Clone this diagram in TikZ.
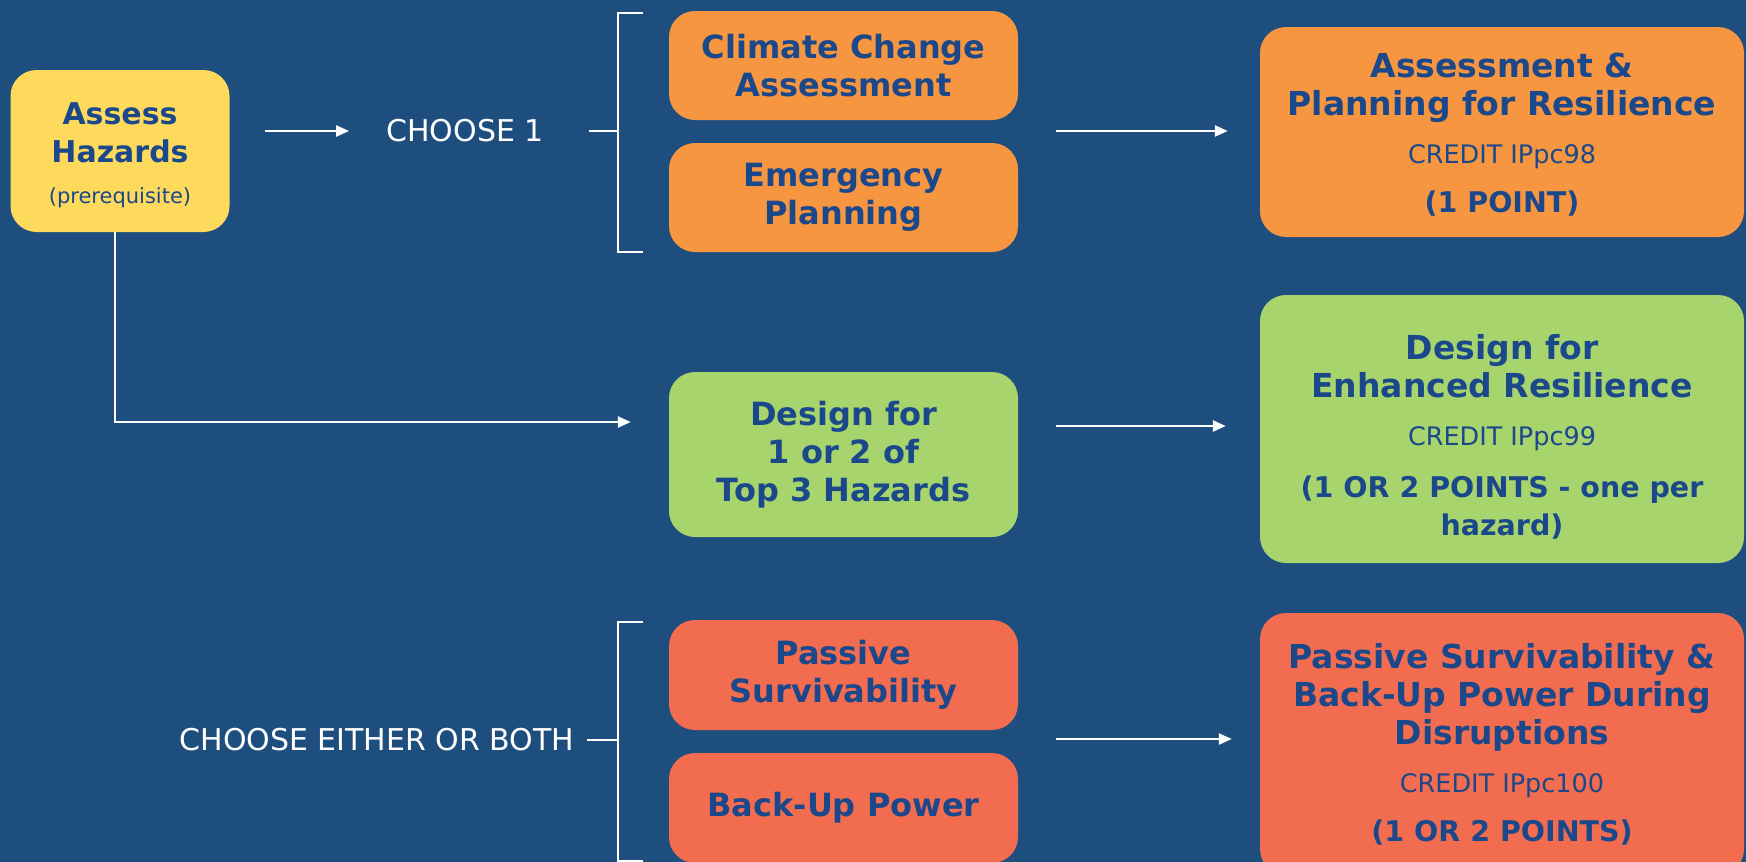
\documentclass[tikz,border=0pt]{standalone}
\usepackage{fontspec}
\setmainfont{DejaVu Sans}
\usetikzlibrary{arrows.meta}
\definecolor{bg}{RGB}{30,78,126}
\definecolor{ink}{RGB}{26,72,138}
\definecolor{hazyellow}{RGB}{253,217,92}
\definecolor{assessorange}{RGB}{247,150,64}
\definecolor{designgreen}{RGB}{168,212,110}
\definecolor{powerred}{RGB}{242,108,80}
\newcommand{\creditline}[1]{{\fontsize{25.5}{30}\selectfont\mdseries #1}}
\newcommand{\pointsfont}{\fontsize{28.5}{36}\selectfont}
\begin{document}
\begin{tikzpicture}[x=1pt,y=1pt,
  box/.style={rectangle, rounded corners=26pt, inner sep=0pt, align=center,
    text=ink, font=\fontsize{32}{38}\selectfont\bfseries,
    minimum width=349pt, minimum height=109pt},
  credit/.style={box, minimum width=484pt, font=\fontsize{33}{38}\selectfont\bfseries},
  choice/.style={text=white, inner sep=0pt, font=\fontsize{30}{36}\selectfont},
  wire/.style={draw=white, line width=2.4pt},
  arrow/.style={wire, -{Triangle[length=13pt,width=11pt]}}
]
\useasboundingbox (0,0) rectangle (1746,-862);
\clip (0,0) rectangle (1746,-862);
\fill[bg] (0,0) rectangle (1746,-862);

% prerequisite
\node[box, fill=hazyellow, minimum width=219pt, minimum height=162pt,
      font=\fontsize{30}{38}\selectfont\bfseries] (assess) at (120,-151)
  {\rule{0pt}{31pt}Assess\\Hazards\\[3pt]{\fontsize{21}{25}\selectfont\mdseries (prerequisite)}};

% option boxes
\node[box, fill=assessorange] (climate) at (843.5,-65.5) {Climate Change\\Assessment};
\node[box, fill=assessorange] (emerg) at (843.5,-197.5) {Emergency\\Planning};
\node[box, fill=designgreen, minimum height=165pt] (design) at (843.5,-454.5)
  {Design for\\1 or 2 of\\Top 3 Hazards};
\node[box, fill=powerred, minimum height=110pt] (passive) at (843.5,-675) {Passive\\Survivability};
\node[box, fill=powerred, minimum height=110pt] (backup) at (843.5,-808) {Back-Up Power};

% credit boxes
\node[credit, fill=assessorange, minimum height=210pt] (plan) at (1502,-132)
  {\rule{0pt}{30pt}Assessment \&\\Planning for Resilience\\[10pt]
   \creditline{CREDIT IPpc98}\\[11pt]\pointsfont (1 POINT)};
\node[credit, fill=designgreen, minimum height=268pt] (enh) at (1502,-429)
  {\rule{0pt}{40pt}Design for\\Enhanced Resilience\\[10pt]
   \creditline{CREDIT IPpc99}\\[14pt]
   \pointsfont (1 OR 2 POINTS - one per\\\pointsfont hazard)};
\node[credit, fill=powerred, minimum height=262pt] (surv) at (1502,-744)
  {Passive Survivability \&\\Back-Up Power During\\Disruptions\\[10pt]
   \creditline{CREDIT IPpc100}\\[11pt]\pointsfont (1 OR 2 POINTS)};

% choice labels
\node[choice] (choose1) at (465,-131) {CHOOSE 1};
\node[choice] (either) at (377,-740) {CHOOSE EITHER OR BOTH};

% bracket joints
\coordinate (b1mid) at (618,-131);
\coordinate (b1top) at (643,-13);
\coordinate (b1bot) at (643,-252);
\coordinate (b2mid) at (618,-740);
\coordinate (b2top) at (643,-622);
\coordinate (b2bot) at (643,-861);
\coordinate (hzturn) at (115,-422);
\coordinate (row2) at (0,-426);
\coordinate (row3) at (0,-739);

% top row
\draw[arrow] ([xshift=35pt]assess.east |- choose1) -- ([xshift=-37pt]choose1.west);
\draw[wire] ([xshift=45pt]choose1.east) -- (b1mid);
\draw[wire] (b1top) -- ++(-25,0) |- (b1bot);
\draw[arrow] ([xshift=38pt]climate.east |- b1mid) -- ([xshift=-32pt]plan.west |- b1mid);

% middle row
\draw[arrow] ([xshift=-5pt]assess.south) -- (hzturn) -- ([xshift=-38pt]design.west |- hzturn);
\draw[arrow] ([xshift=38pt]design.east |- row2) -- ([xshift=-34pt]enh.west |- row2);

% bottom row
\draw[wire] ([xshift=12pt]either.east) -- (b2mid);
\draw[wire] (b2top) -- ++(-25,0) |- (b2bot);
\draw[arrow] ([xshift=38pt]passive.east |- row3) -- ([xshift=-28pt]surv.west |- row3);
\end{tikzpicture}
\end{document}
